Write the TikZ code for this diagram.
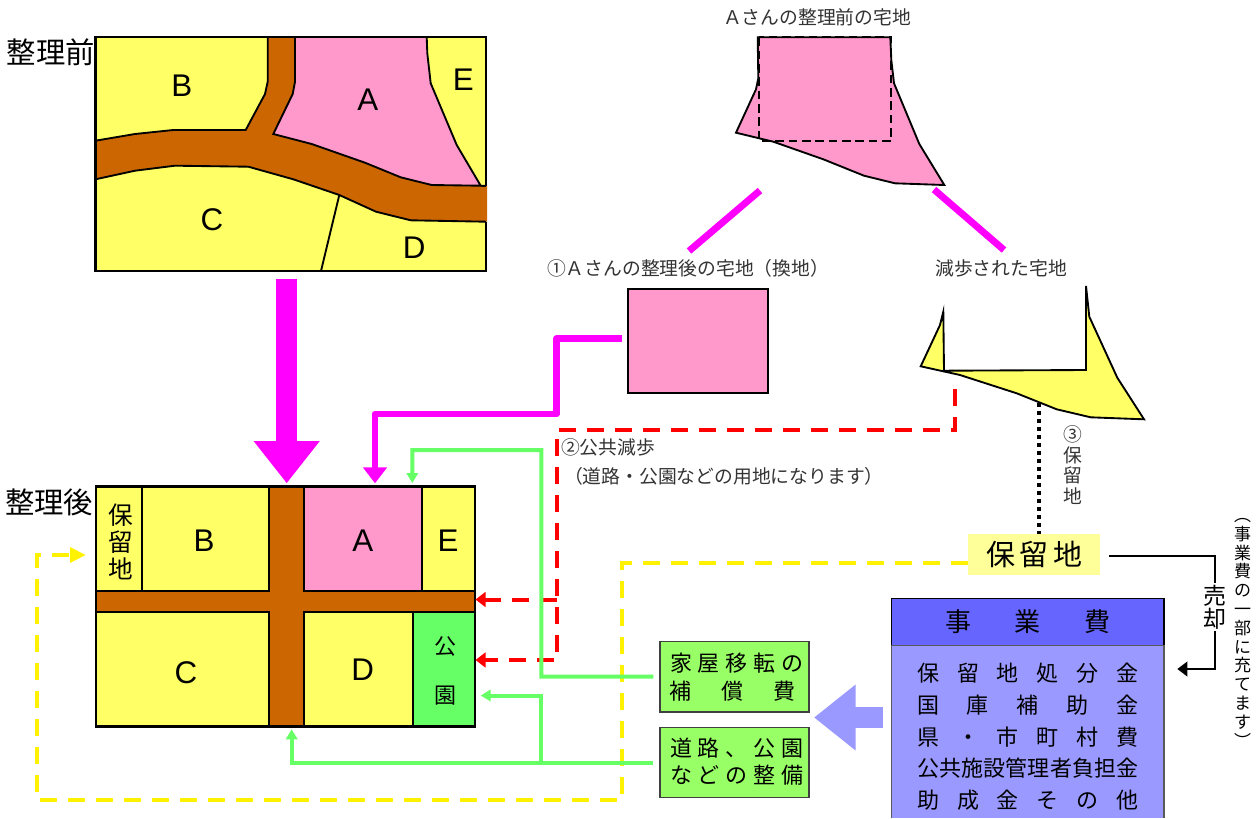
\documentclass[tikz,border=0pt]{standalone}
\usepackage{fontspec}
\usetikzlibrary{arrows.meta}
\setmainfont{Noto Sans CJK JP}
\newfontfamily\latf{Liberation Sans}
\definecolor{brn}{HTML}{CC6600}
\definecolor{pnk}{HTML}{FF99CC}
\definecolor{yel}{HTML}{FFFF66}
\definecolor{grn}{HTML}{66FF66}
\definecolor{lgr}{HTML}{99FF66}
\definecolor{pyl}{HTML}{FFFF99}
\definecolor{blu}{HTML}{6666FF}
\definecolor{lbl}{HTML}{9999FF}
\definecolor{mag}{HTML}{FF00FF}
\definecolor{cap}{HTML}{333333}
\newcommand\fsz[1]{\fontsize{#1}{#1}\selectfont}
\newcommand\vfs[2]{\fontsize{#1}{#2}\selectfont\lineskiplimit=-30pt\relax}
\newcommand\jrow[2]{\makebox[#1pt][s]{#2}}
\newcommand\cellbox[7]{%
  \pgfmathsetmacro\wpx{(#4-#2)*0.75}%
  \pgfmathsetmacro\hpx{(#5-#3)*0.75}%
  \node[#6,minimum width=\wpx pt,minimum height=\hpx pt] (#1) at ({(#2+#4)/2},{(#3+#5)/2}) {#7};}
\tikzset{
  txt/.style={inner sep=0pt,outer sep=0pt},
  letter/.style={txt,font=\latf\fsz{23.5}},
  capt/.style={txt,text=cap,font=\fsz{14.1}},
  big/.style={txt,font=\fsz{22}},
  cellb/.style={draw=black,line width=1.5pt,inner sep=0pt,outer sep=0pt},
  parcel/.style={draw=black,line width=1.4pt,line join=miter},
  magbar/.style={draw=mag,line width=5.2pt},
  magline/.style={draw=mag,line width=5.2pt,line join=round,-{Triangle[length=12pt,width=17.5pt]}},
  redline/.style={draw=red,line width=3pt,dash pattern=on 12.5pt off 8.5pt,-{Triangle[length=7.5pt,width=11pt]}},
  yelline/.style={draw=yellow,line width=3pt,dash pattern=on 12.5pt off 8.5pt,-{Triangle[length=12pt,width=11pt]}},
  grnline/.style={draw=grn,line width=3pt,-{Triangle[length=7.5pt,width=8.5pt]}},
  blkline/.style={draw=black,line width=1.4pt,-{Triangle[length=7.5pt,width=11pt]}},
  greenbox/.style={draw=black!75,line width=.9pt,fill=lgr,inner sep=0pt,outer sep=0pt},
  row/.style={txt,font=\fsz{16.5}}
}
\begin{document}
\begin{tikzpicture}[x=0.75pt,y=-0.75pt]
\useasboundingbox (0,0) rectangle (1259,818);
\fill[white] (0,0) rectangle (1259,818);

% ---- before map
\cellbox{pre}{95.5}{37}{486}{271}{fill=yel,inner sep=0pt,outer sep=0pt}{}
\fill[brn] (95.5,140.7) -- (135,134) -- (173.3,130) -- (245.7,130) -- (265,94) -- (267.7,81.7) -- (267.7,37) -- (295,37) -- (295,81.7) -- (292.7,94) -- (273.3,134) -- (311.7,144) -- (365,162.7) -- (400.7,177.3) -- (431.7,185) -- (487,186) -- (487,221.7) -- (410.7,220.3) -- (376,211.7) -- (339.3,195) -- (293.3,179.3) -- (248.3,166.7) -- (175,165.7) -- (135,170.7) -- (95.5,179.3) -- cycle;
\draw[parcel] (95.5,140.7) -- (135,134) -- (173.3,130) -- (245.7,130) -- (265,94) -- (267.7,81.7) -- (267.7,37);
\draw[parcel] (95.5,179.3) -- (135,170.7) -- (175,165.7) -- (248.3,166.7) -- (293.3,179.3) -- (339.3,195) -- (376,211.7) -- (410.7,220.3) -- (486,221.7);
\draw[parcel,fill=pnk] (295,37) -- (295,81.7) -- (292.7,94) -- (273.3,134) -- (311.7,144) -- (365,162.7) -- (400.7,177.3) -- (431.7,185) -- (480.7,185.7) -- (456.7,145) -- (430.7,83.3) -- (427.3,53.3) -- (426.7,37) -- cycle;
\draw[parcel] (480.7,185.7) -- (486,186);
\draw[parcel] (339.3,195) -- (321,271);
\draw[draw=black,line width=1.6pt] (486,186) -- (486,37) -- (95.5,37) -- (95.5,271) -- (486,271) -- (486,221.7);
\node[letter] (lb1) at (181.7,86) {B};
\node[letter] (la1) at (367.7,99.3) {A};
\node[letter] (le1) at (463.3,79.3) {E};
\node[letter] (lc1) at (212,220) {C};
\node[letter] (ld1) at (414.3,247.3) {D};
\node[big] (tbefore) at (51,52) {整理前};

% ---- after map
\cellbox{post}{96}{486.7}{475}{726.7}{fill=brn,draw=black,line width=2pt,inner sep=0pt,outer sep=0pt}{}
\cellbox{cR}{96}{486.7}{141.7}{590.7}{cellb,fill=yel}{}
\cellbox{cB}{141.7}{486.7}{269.3}{590.7}{cellb,fill=yel}{}
\cellbox{cA}{304}{486.7}{422}{590.7}{cellb,fill=pnk}{}
\cellbox{cE}{422}{486.7}{475}{590.7}{cellb,fill=yel}{}
\cellbox{cC}{96}{612}{269.3}{726.7}{cellb,fill=yel}{}
\cellbox{cD}{304}{612}{413.3}{726.7}{cellb,fill=yel}{}
\cellbox{cP}{413.3}{612}{475}{726.7}{cellb,fill=grn}{}
\draw[line width=2pt] (post.north west) rectangle (post.south east);
\node[letter] (lb2) at (204,541) {B};
\node[letter] (la2) at (362.7,541) {A};
\node[letter] (le2) at (448,541) {E};
\node[letter] (lc2) at (186,672.7) {C};
\node[letter] (ld2) at (362.7,670) {D};
\node[txt,align=center,font=\vfs{18.5}{20}] (lr2) at (121,542) {保\\留\\地};
\node[txt,align=center,font=\vfs{16.5}{36.3}] (lp2) at (445.3,671) {公\\園};
\node[big] (tafter) at (49,502) {整理後};

% ---- Mr A's parcel before
\node[capt] (t1) at (817,17) {Ａさんの整理前の宅地};
\draw[parcel,fill=pnk] (757.7,37.3) -- (890.3,37.3) -- (891.3,60) -- (894,83.3) -- (919.3,144) -- (944.3,185) -- (895,183.3) -- (864,175.7) -- (823.3,159.3) -- (773.3,141.7) -- (736,132.7) -- (756,89.3) -- (758.3,78.3) -- cycle;
\draw[black,line width=1.4pt,dash pattern=on 6.5pt off 3.5pt] (758.7,37.3) rectangle (891.3,140.7);

\coordinate (bl1) at (760,190.5);
\coordinate (bl2) at (689,251);
\coordinate (br1) at (934,189.5);
\coordinate (br2) at (1004,250);
\draw[magbar] (bl1) -- (bl2);
\draw[magbar] (br1) -- (br2);

\node[capt] (t2) at (688,268) {①Ａさんの整理後の宅地（換地）};
\node[capt] (t3) at (1001,268) {減歩された宅地};
\cellbox{newA}{627.7}{289.3}{767.7}{392.7}{draw=black,line width=1.4pt,fill=pnk,inner sep=0pt,outer sep=0pt}{}

% ---- reduced land
\draw[parcel,fill=yel] (920.7,366.3) -- (940,325) -- (943.3,311.7) -- (944,370.7) -- (1086,370) -- (1086,286) -- (1089.3,316.7) -- (1117.3,377.7) -- (1144,419.3) -- (1090.7,417.3) -- (1056.7,409.3) -- (1016.7,393.3) -- (960,375) -- cycle;

\node[capt,anchor=west] (t4) at (561,447.5) {②公共減歩};
\node[capt,anchor=west] (t5) at (564,476.5) {（道路・公園などの用地になります）};
\node[capt,align=center,font=\vfs{14.1}{15.6}] (t6) at (1073,465) {③\\保\\留\\地};

% ---- reserved land
\cellbox{res}{968}{534}{1100}{575}{fill=pyl,inner sep=0pt,outer sep=0pt}{\fsz{21.75}\jrow{72}{保\hfill 留\hfill 地}}
\coordinate (landtop) at (1039,403.3);
\draw[black,line width=3pt,dash pattern=on 3pt off 3pt] (landtop) -- (landtop |- res.north);

% ---- project cost
\cellbox{hdr}{891.7}{598.3}{1164}{645.7}{draw=black,line width=.9pt,fill=blu,inner sep=0pt,outer sep=0pt}{\fsz{19.5}\jrow{124}{事\hfill 業\hfill 費}}
\cellbox{body}{891.7}{645.7}{1164}{818}{fill=lbl,inner sep=0pt,outer sep=0pt}{}
\draw[black!65,line width=1pt] (body.south west) -- (body.north west) -- (body.north east) -- (body.south east);
\node[row] (r1) at (1027.8,672.7) {\jrow{166}{保\hfill 留\hfill 地\hfill 処\hfill 分\hfill 金}};
\node[row] (r2) at (1027.8,705) {\jrow{166}{国\hfill 庫\hfill 補\hfill 助\hfill 金}};
\node[row] (r3) at (1027.8,736.7) {\jrow{166}{県\hfill ・\hfill 市\hfill 町\hfill 村\hfill 費}};
\node[row] (r4) at (1027.8,768.3) {\jrow{166}{公\hfill 共\hfill 施\hfill 設\hfill 管\hfill 理\hfill 者\hfill 負\hfill 担\hfill 金}};
\node[row] (r5) at (1027.8,800) {\jrow{166}{助\hfill 成\hfill 金\hfill そ\hfill の\hfill 他}};

% ---- sale line
\coordinate (saleA) at (1109.3,556);
\coordinate (saleB) at (1215,556);
\coordinate (saleT) at (1177.3,669);
\draw[blkline] (saleA) -- (saleB) |- (saleT);
\node[txt,fill=white,align=center,font=\vfs{17.25}{17.25},inner ysep=1.5pt] (sale) at (1215,607) {売\\却};
\node[txt,align=center,font=\vfs{12.75}{14.1}] (note) at (1242.7,632.8) {︵\\事\\業\\費\\の\\一\\部\\に\\充\\て\\ま\\す\\︶};

% ---- green boxes
\cellbox{g1}{660}{641.3}{809}{712}{greenbox}{}
\cellbox{g2}{660}{727.3}{809}{797.7}{greenbox}{}
\node[row] (g1a) at (736.7,662.7) {\jrow{100}{家\hfill 屋\hfill 移\hfill 転\hfill の}};
\node[row] (g1b) at (732.5,691) {\jrow{94}{補\hfill 償\hfill 費}};
\node[row] (g2a) at (736.7,748.3) {\jrow{100}{道\hfill 路\hfill 、\hfill 公\hfill 園}};
\node[row] (g2b) at (736.7,775) {\jrow{100}{な\hfill ど\hfill の\hfill 整\hfill 備}};

% ---- big arrows
\coordinate (bigS) at (286.7,279);
\coordinate (bigE) at (286.7,483.3);
\draw[mag,line width=16pt,-{Triangle[length=31.7pt,width=47.5pt]}] (bigS) -- (bigE);
\coordinate (bluS) at (882.7,717.5);
\coordinate (bluE) at (814,717.5);
\draw[lbl,line width=16.2pt,-{Triangle[length=31.3pt,width=47.5pt]}] (bluS) -- (bluE);

% ---- magenta connector
\coordinate (mS) at (621.7,338.7);
\coordinate (mB) at (556.7,338.7);
\coordinate (mC) at (556.7,414);
\coordinate (mD) at (375,414);
\coordinate (mT) at (375,483.3);
\draw[magline] (mS) -- (mB) -- (mC) -- (mD) -- (mT);

% ---- red connectors
\coordinate (rS) at (955,389);
\coordinate (rB) at (955,430);
\coordinate (rC) at (557,430);
\coordinate (rD) at (557,660);
\coordinate (rT2) at (475.5,660);
\coordinate (rJ) at (557,599.5);
\coordinate (rT1) at (475.5,599.5);
\draw[redline] (rS) -- (rB) -- (rC) -- (rD) -- (rT2);
\draw[redline] (rJ) -- (rT1);

% ---- yellow connector
\coordinate (yB) at (622,563);
\coordinate (yC) at (622,800);
\coordinate (yD) at (37,800);
\coordinate (yE) at (37,555);
\coordinate (yT) at (86,555);
\coordinate (yS) at (968,563);
\draw[yelline] (yS) -- (yB) -- (yC) -- (yD) -- (yE) -- (yT);

% ---- green connectors
\coordinate (gA) at (541.3,676.7);
\coordinate (gB) at (541.3,450);
\coordinate (gC) at (412.3,450);
\coordinate (gT) at (412.3,483);
\draw[grnline,shorten <=5pt] (g1.west) -- (gA) -- (gB) -- (gC) -- (gT);
\coordinate (hA) at (291.7,762.5);
\coordinate (hT) at (291.7,729.3);
\draw[grnline,shorten <=5pt] (g2.west) -- (hA) -- (hT);
\coordinate (iA) at (541.3,762.5);
\coordinate (iB) at (541.3,695.5);
\coordinate (iT) at (480.7,695.5);
\draw[grnline] (iA) -- (iB) -- (iT);
\end{tikzpicture}
\end{document}
